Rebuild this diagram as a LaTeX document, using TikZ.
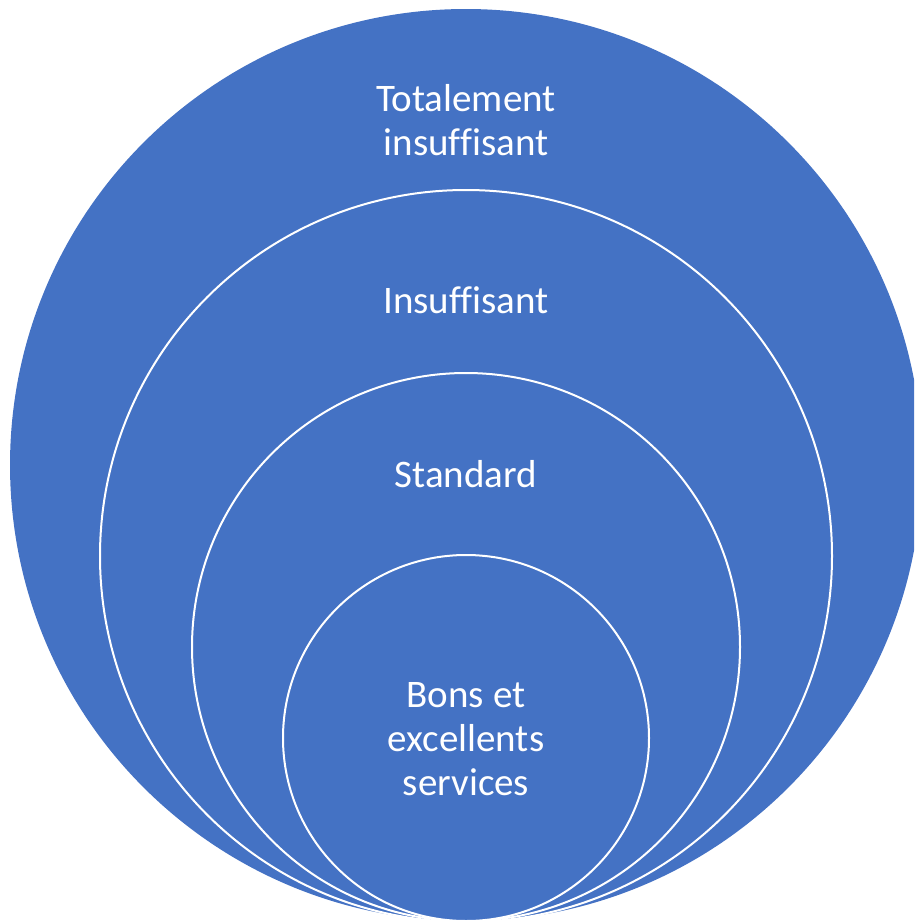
\documentclass[tikz,border=0pt]{standalone}
\usepackage{fontspec}
\setmainfont{Carlito}[Ligatures=NoCommon]
\definecolor{ringblue}{HTML}{4472C4}
\tikzset{
	ring/.style={fill=ringblue, draw=white, line width=2pt},
	ringlabel/.style={text=white, font=\fontsize{39}{44}\selectfont, align=center, anchor=base, inner sep=0pt}
}
\begin{document}
\begin{tikzpicture}[x=1pt,y=-1pt]
	\useasboundingbox (0,0) rectangle (914,921);
	\clip (0,0) rectangle (914,921);

	\coordinate (r1) at (466,465);
	\coordinate (r2) at (466,556);
	\coordinate (r3) at (466,647);
	\coordinate (r4) at (466,738);

	\draw[ring, draw=none] (r1) circle[radius=456pt];
	\draw[ring] (r2) circle[radius=366pt];
	\draw[ring] (r3) circle[radius=274pt];
	\draw[ring] (r4) circle[radius=183pt];

	% base of a multi-line label is its last line
	\node[ringlabel] (t1) at (466,155) {Totalement\\insuffisant};
	\node[ringlabel] (t2) at (466,313) {Insuffisant};
	\node[ringlabel] (t3) at (466,487) {Standard};
	\node[ringlabel] (t4) at (466,795) {Bons et\\excellents\\services};
\end{tikzpicture}
\end{document}
